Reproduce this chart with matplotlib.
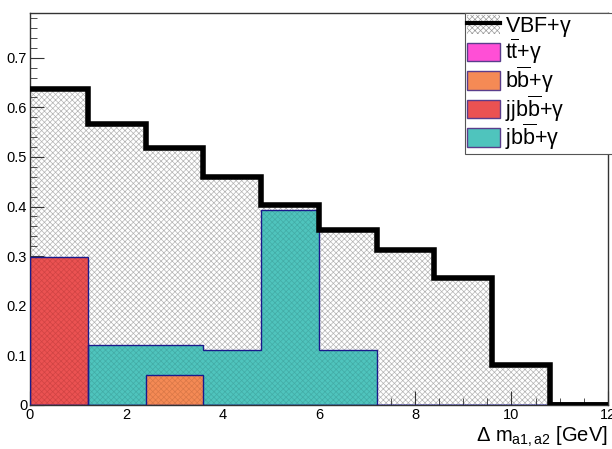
import numpy as np
import matplotlib
matplotlib.use("Agg")
import matplotlib.pyplot as plt
from matplotlib.patches import Patch
from matplotlib.lines import Line2D
from matplotlib.legend_handler import HandlerTuple

plt.rcParams['font.family'] = ['Liberation Sans', 'DejaVu Sans']
plt.rcParams['mathtext.fontset'] = 'custom'
plt.rcParams['mathtext.rm'] = 'Liberation Sans'
plt.rcParams['mathtext.it'] = 'Liberation Sans'
plt.rcParams['hatch.linewidth'] = 0.5

# bin edges, 10 bins of 1.2 GeV
edges = np.linspace(0, 12, 11)

# histogram contents
vbf = [0.636, 0.566, 0.517, 0.459, 0.403, 0.353, 0.312, 0.255, 0.08, 0.0]
ttg = [0, 0, 0, 0, 0, 0, 0, 0, 0, 0]
bbg = [0, 0, 0.06, 0, 0, 0, 0, 0, 0, 0]
jjbbg = [0.298, 0, 0, 0, 0, 0, 0, 0, 0, 0]
jbbg = [0, 0.121, 0.121, 0.111, 0.394, 0.111, 0, 0, 0, 0]

labels = [r'VBF+$\gamma$', r't$\overline{\mathrm{t}}$+$\gamma$', r'b$\overline{\mathrm{b}}$+$\gamma$',
          r'jjb$\overline{\mathrm{b}}$+$\gamma$', r'jb$\overline{\mathrm{b}}$+$\gamma$']
colors = ['#ff4fd6', '#f58a55', '#eb5252', '#4fc4bd']
hatch_cols = ['#e040be', '#d97848', '#d04444', '#43aca6']

fig = plt.figure(figsize=(6.12, 4.49), dpi=100)
ax = fig.add_axes([0.049, 0.098, 0.944, 0.873])

# VBF hatched fill
ax.stairs(vbf, edges, fill=True, facecolor='white', edgecolor='#b4b4b4',
          hatch='xxxxxx', linewidth=0, zorder=1)

# backgrounds
for vals, c, hc in [(ttg, colors[0], hatch_cols[0]), (jjbbg, colors[2], hatch_cols[2]),
                    (jbbg, colors[3], hatch_cols[3]), (bbg, colors[1], hatch_cols[1])]:
    if max(vals) > 0:
        ax.stairs(vals, edges, fill=True, facecolor=c, edgecolor=hc,
                  hatch='xxxxxx', linewidth=0, zorder=2)
        ax.stairs(vals, edges, color='#1a1a8c', linewidth=1.0, zorder=3)

# VBF outline
ax.stairs(vbf, edges, color='black', linewidth=4, zorder=4, baseline=None)
ax.plot([10.8, 12], [0, 0], color='black', linewidth=4, zorder=4, solid_capstyle='butt')

ax.set_xlim(0, 12)
ax.set_ylim(0, 0.79)
ax.set_xticks(np.arange(0, 13, 2))
ax.set_xticklabels(['0', '2', '4', '6', '8', '10', '12'])
ax.set_xticks(np.arange(0, 12.01, 0.5), minor=True)
ax.set_yticks(np.arange(0, 0.75, 0.1))
ax.set_yticklabels(['0', '0.1', '0.2', '0.3', '0.4', '0.5', '0.6', '0.7'])
ax.set_yticks(np.arange(0, 0.79, 0.02), minor=True)
ax.tick_params(which='both', direction='in', labelsize=10.5, color='#333333')
ax.tick_params(which='major', length=10)
ax.tick_params(which='minor', length=5)
ax.tick_params(axis='x', pad=2)
ax.tick_params(axis='y', pad=2)
for s in ax.spines.values():
    s.set_linewidth(1.0)
    s.set_color('#333333')

ax.set_xlabel(r'$\Delta$ m$_{\mathrm{a1,a2}}$ [GeV]', loc='right', fontsize=14.5, labelpad=2)

# legend
h_vbf = (Patch(facecolor='white', edgecolor='#9a9a9a', hatch='xxxxxx', linewidth=0),
         Line2D([0], [0], color='black', linewidth=3))
handles = [h_vbf]
for c in colors:
    handles.append(Patch(facecolor=c, edgecolor='#5a3d8c', linewidth=1))
leg = fig.legend(handles, labels, loc='upper left', bbox_to_anchor=(0.76, 0.5, 0.26, 0.472),
                 mode='expand', fontsize=15.5, frameon=True, fancybox=False, borderpad=0.1,
                 labelspacing=-0.08, handlelength=1.5, handleheight=0.95, handletextpad=0.25,
                 borderaxespad=0, handler_map={tuple: HandlerTuple(ndivide=1)})
leg.get_frame().set_edgecolor('#555555')
leg.get_frame().set_linewidth(0.8)
leg.get_frame().set_alpha(1)

fig.savefig('out.png', dpi=100)
